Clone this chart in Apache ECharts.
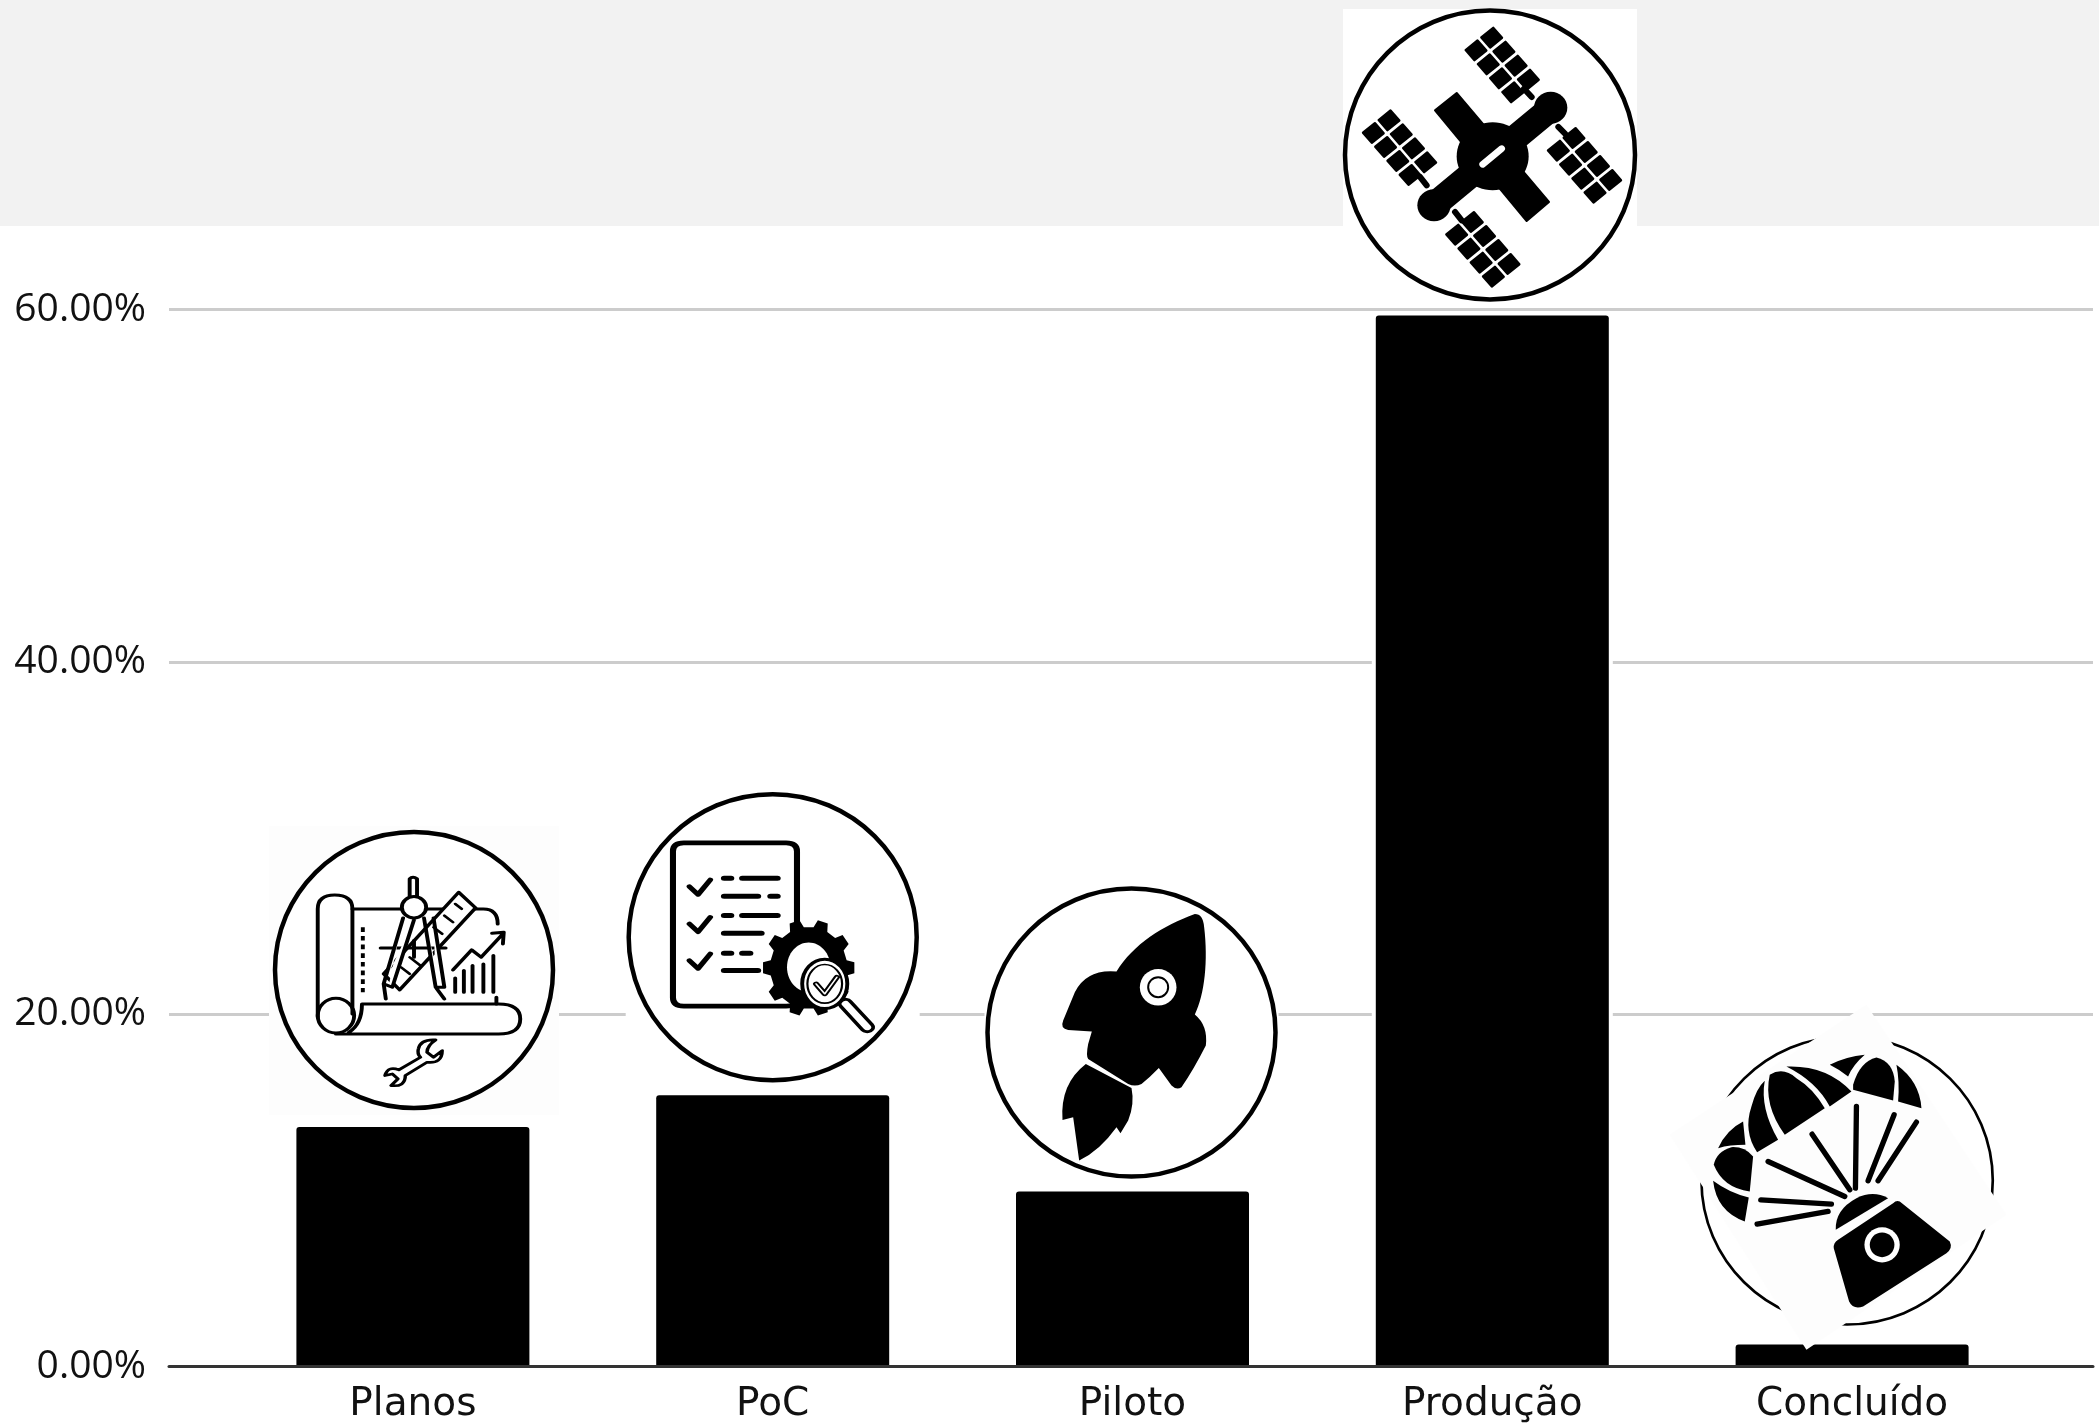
<!DOCTYPE html>
<html>
<head>
<meta charset="utf-8">
<title>Estágios</title>
<style>html,body{margin:0;padding:0;background:#fff}#c{width:2099px;height:1426px}</style>
<script src="https://cdn.jsdelivr.net/npm/echarts@6/dist/echarts.min.js"></script>
</head>
<body>
<div id="c"></div>
<script>
const categories = ['Planos', 'PoC', 'Piloto', 'Produção', 'Concluído'];
const barValues = [13.6, 15.4, 9.93, 59.66, 1.25];
const yMax = 60;
const yStep = 20;

// ---- icon artwork, in the pixel space of each icon's own drawing ----
function P(d, fill, stroke, w, extra) {
  return { type: 'path', silent: true, shape: { pathData: d },
    style: Object.assign({ fill: fill || 'none', stroke: stroke || 'none', lineWidth: w || 0, lineCap: 'round', lineJoin: 'round' }, extra || {}) };
}
function E(cx, cy, rx, ry, fill, stroke, w) {
  return { type: 'ellipse', silent: true, shape: { cx, cy, rx, ry },
    style: { fill: fill || 'none', stroke: stroke || 'none', lineWidth: w || 0 } };
}
const K = '#000', W = '#fff';

function satellite() {
  const out = [];
  const along = [36.7, 42], across = [-47, 38];
  const starts = [[575, 112], [267, 360], [822, 413], [517, 665]];
  starts.forEach(s => {
    let d = '';
    for (let i = 0; i < 4; i++) for (let j = 0; j < 2; j++) {
      const c = [s[0] + along[0] * i + across[0] * j, s[1] + along[1] * i + across[1] * j];
      const pts = [[-1, -1], [1, -1], [1, 1], [-1, 1]].map(q => [c[0] + q[0] * .36 * along[0] + q[1] * .38 * across[0], c[1] + q[0] * .36 * along[1] + q[1] * .38 * across[1]]);
      d += 'M' + pts.map(p => p[0].toFixed(1) + ' ' + p[1].toFixed(1)).join('L') + 'Z';
    }
    out.push(P(d, K, K, 7));
  });
  out.push(P('M470 278L405 330L680 662L747 605Z', K, K, 6));
  out.push(P('M398 618L755 322', null, K, 78));
  out.push(E(752, 322, 50, 48, K), E(402, 615, 50, 48, K), E(578, 468, 108, 102, K));
  out.push(P('M695 290L672 265M775 380L795 400M380 555L360 530M465 635L485 660', null, K, 18));
  out.push(P('M548 492L605 445', null, W, 20));
  return out;
}

function rocket() {
  return [
    P('M705 130Q730 130 733 170C745 270 735 370 705 432Q745 465 738 525Q700 600 665 650Q650 660 635 645L597 592Q570 620 545 640Q525 650 505 640L385 565Q378 555 385 520L396 483L325 478Q300 475 310 450L345 365Q380 295 470 303C520 220 610 165 705 130Z', K),
    P('M378 580L515 652Q525 700 505 750L482 788L470 770Q420 840 358 870L340 740L308 748Q300 640 378 580Z', K),
    E(595, 350, 55, 55, W), E(595, 350, 30, 30, W, K, 6)
  ];
}

function blueprint() {
  const s = 9;
  return [
    P('M133 710L133 385Q133 343 172 343Q213 343 213 385L213 700', null, K, s),
    E(175, 705, 42, 52, null, K, s),
    P('M213 385L515 385Q548 385 548 430', null, K, s),
    P('M175 760L550 760Q600 760 600 715Q600 670 550 670L235 670Q235 730 205 755', null, K, s),
    P('M237 440L237 635', null, K, s, { lineCap: 'butt', lineDash: [14, 12] }),
    P('M458 335L497 382L322 628L285 580L458 335Z', W, K, s),
    P('M450 370L465 385M425 405L445 425M400 440L420 460M345 530L370 555M325 560L345 580', null, K, 7),
    P('M278 502L428 502M355 480L355 530', null, K, s),
    P('M345 350L345 295Q352 285 362 295L362 350', W, K, s),
    P('M330 412L285 610L290 655M355 418L305 620L285 610', W, K, s),
    P('M378 412L405 620L425 655M400 412L425 620L405 620', W, K, s),
    E(355, 380, 28, 32, W, K, s),
    P('M445 568L488 508L510 530L560 460M535 458L562 455L560 490', null, K, s),
    P('M450 592L450 635M470 570L470 635M490 555L490 635M515 550L515 635M538 525L538 635M545 650L545 670', null, K, s),
    P('M405 778Q370 775 365 805Q362 820 370 830L320 868Q295 855 288 885L305 880L318 895L302 915Q335 920 335 885L385 845Q420 850 420 810L400 830L385 815Q385 795 405 778Z', W, K, 8)
  ];
}

function gearPath(cx, cy, rx, ry, n) {
  let d = '';
  for (let i = 0; i < n; i++) {
    const a = i / n * Math.PI * 2, st = Math.PI * 2 / n;
    [[-.3, .84], [-.18, 1], [.18, 1], [.3, .84]].forEach((q, j) => {
      const t = a + q[0] * st;
      d += (i === 0 && j === 0 ? 'M' : 'L') + (cx + Math.cos(t) * rx * q[1]).toFixed(1) + ' ' + (cy + Math.sin(t) * ry * q[1]).toFixed(1);
    });
  }
  return d + 'Z';
}

function checklist() {
  const out = [
    P('M977 187L1213 187Q1238 187 1238 212L1238 652Q1238 677 1213 677L977 677Q952 677 952 652L952 212Q952 187 977 187Z', W, K, 14)
  ];
  [0, 112, 222].forEach(o => out.push(P(`M990 ${318 + o}L1010 ${342 + o}L1038 ${298 + o}`, null, K, 13)));
  out.push(P('M1070 293L1086 293M1112 293L1193 293M1070 347L1148 347M1177 347L1193 347M1070 405L1086 405M1112 405L1193 405M1070 458L1156 458M1070 518L1086 518M1112 518L1130 518M1070 570L1148 570', null, K, 15));
  out.push(P(gearPath(1265, 562, 106, 146, 10), K));
  out.push(E(1265, 560, 50, 74, W));
  out.push(P('M1350 670L1400 740', null, K, 36));
  out.push(P('M1350 670L1400 740', null, W, 18));
  out.push(E(1302, 610, 52, 74, W, K, 9));
  out.push(E(1302, 610, 40, 58, W, K, 5));
  out.push(P('M1282 610L1302 640L1330 590', null, K, 14));
  out.push(P('M1282 610L1302 640L1330 590', null, W, 4));
  return out;
}

function parachute() {
  const lines = 'M355 540L585 645M487 458L600 625M620 375L617 620M733 400L655 598M800 422L685 598M333 655L545 668M322 728L535 690';
  return [
    E(592, 597, 437, 432, null, K, 8),
    P('M650 70L1070 700L470 1105L60 460Z', '#fdfdfd'),
    P('M605 330L540 375Q500 300 410 255Q530 250 605 330Z', K),
    P('M525 380L405 460Q340 370 360 280Q400 255 440 290Q490 320 525 380Z', K),
    P('M385 475L322 512Q280 450 305 375Q320 320 345 298Q330 380 385 475Z', K),
    P('M205 500Q230 445 280 420L287 490Q240 490 205 500Z', K),
    P('M192 550Q200 510 245 497Q285 495 310 525L300 630Q220 620 192 550Z', K),
    P('M190 598Q240 635 297 648L285 720Q200 690 190 598Z', K),
    P('M610 310Q630 240 680 228Q730 240 735 300L730 357L610 325Z', K),
    P('M740 250Q810 300 815 380L745 360Q750 300 740 250Z', K),
    P('M540 250Q590 225 645 220Q610 250 595 285Q570 265 540 250Z', K),
    P(lines, null, K, 16),
    P('M558 745Q555 685 620 650Q670 625 715 650L558 745Z', K),
    P('M750 660L900 780Q910 800 890 815L640 975Q610 985 598 960L552 800Q550 785 565 775L730 665Q740 655 750 660Z', K),
    E(697, 790, 53, 53, W), E(697, 790, 37, 37, K)
  ];
}

// dx/dy: circle centre relative to the top-centre of the bar
const iconLayouts = [
  { dx: 1.1, dy: -157, rx: 139, ry: 138, sx: 1 / 2.306, sy: 1 / 3, cx: 355, cy: 568, box: [-145, -144, 290, 289], boxFill: '#fdfdfd', draw: blueprint },
  { dx: 0, dy: -158, rx: 144, ry: 143, sx: 1 / 2.306, sy: 1 / 3, cx: 1182, cy: 470, box: [-147, -147, 294, 294], boxFill: W, draw: checklist },
  { dx: -1, dy: -159, rx: 144, ry: 144, sx: 1 / 3, sy: 1 / 3, cx: 515, cy: 486, box: [-147, -147, 294, 294], boxFill: W, draw: rocket },
  { dx: -2.3, dy: -160.5, rx: 145, ry: 144.5, sx: 1 / 3, sy: 1 / 3, cx: 570, cy: 464, box: [-147, -146, 294, 293], boxFill: W, draw: satellite },
  { dx: -5, dy: -164, sx: 1 / 3, sy: 1 / 3, cx: 592, cy: 597, draw: parachute }
];

function renderIcon(params, api) {
  const i = params.dataIndex;
  const top = api.coord([api.value(0), api.value(1)]);
  const L = iconLayouts[i];
  const children = [];
  if (L.box) {
    children.push({ type: 'rect', silent: true, shape: { x: L.box[0], y: L.box[1], width: L.box[2], height: L.box[3] }, style: { fill: L.boxFill } });
    children.push({ type: 'ellipse', silent: true, shape: { cx: 0, cy: 0, rx: L.rx, ry: L.ry }, style: { fill: W, stroke: K, lineWidth: 4.5 } });
  }
  children.push({ type: 'group', x: -L.cx * L.sx, y: -L.cy * L.sy, scaleX: L.sx, scaleY: L.sy, children: L.draw() });
  return { type: 'group', x: top[0] + L.dx, y: top[1] + L.dy, children };
}

const gridTop = 309.5, gridHeight = 1057;
const chart = echarts.init(document.getElementById('c'), null, { renderer: 'canvas', width: 2099, height: 1426 });
chart.setOption({
  animation: false,
  backgroundColor: '#ffffff',
  graphic: [{ type: 'rect', z: -1, silent: true, shape: { x: 0, y: 0, width: 2099, height: 226 }, style: { fill: '#f2f2f2' } }],
  grid: [
    { left: 169, width: 1924, top: gridTop, height: gridHeight },
    { left: 233, width: 1799, top: gridTop, height: gridHeight }
  ],
  xAxis: [
    { gridIndex: 0, type: 'category', data: categories, z: 5,
      axisLine: { show: true, lineStyle: { color: '#333333', width: 3 } },
      axisTick: { show: false }, axisLabel: { show: false }, splitLine: { show: false } },
    { gridIndex: 1, type: 'category', data: categories, z: 6,
      axisLine: { show: false }, axisTick: { show: false }, splitLine: { show: false },
      axisLabel: { show: true, interval: 0, margin: 19, color: '#111111', fontFamily: 'DejaVu Sans', fontSize: 39 } },
    { gridIndex: 1, type: 'category', data: categories, show: false }
  ],
  yAxis: [
    { gridIndex: 0, type: 'value', min: 0, max: yMax, interval: yStep,
      axisLine: { show: false }, axisTick: { show: false },
      splitLine: { show: true, lineStyle: { color: '#cccccc', width: 3 } },
      axisLabel: { margin: 23, color: '#111111', fontFamily: 'Open Sans', fontSize: 39, formatter: v => v.toFixed(2) + '%' } },
    { gridIndex: 1, type: 'value', min: 0, max: yMax, interval: yStep, show: false }
  ],
  series: [
    { name: 'halo', type: 'bar', xAxisIndex: 2, yAxisIndex: 1, data: barValues, barWidth: 241, z: 1, silent: true,
      itemStyle: { color: '#ffffff' } },
    { name: 'Estágio', type: 'bar', xAxisIndex: 1, yAxisIndex: 1, data: barValues, barWidth: 233, z: 2, silent: true,
      itemStyle: { color: '#000000', borderRadius: [3, 3, 0, 0] } },
    { name: 'Ícones', type: 'custom', xAxisIndex: 1, yAxisIndex: 1, z: 4, silent: true, clip: false,
      data: barValues.map((v, i) => [categories[i], v]), encode: { x: 0, y: 1 }, renderItem: renderIcon }
  ]
});
</script>
</body>
</html>
